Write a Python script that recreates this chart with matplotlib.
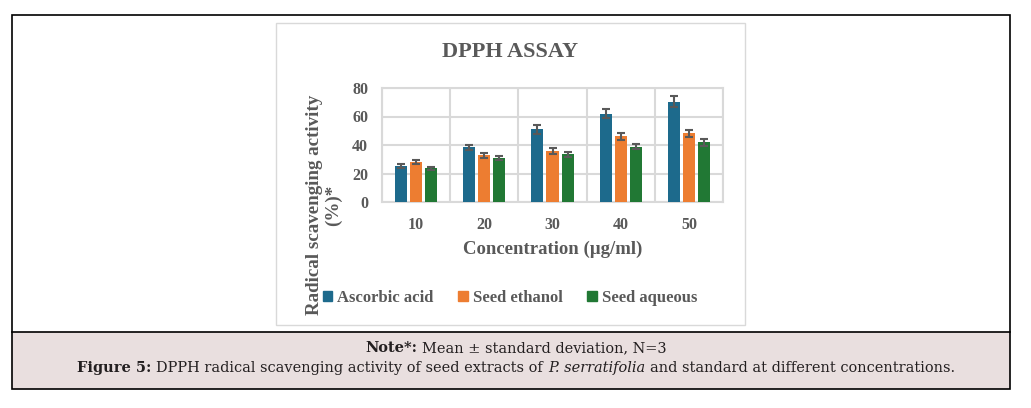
import matplotlib
matplotlib.use("Agg")
import matplotlib.pyplot as plt
from matplotlib.patches import Rectangle, Patch
import numpy as np

# data
concentrations = ["10", "20", "30", "40", "50"]
series_names = ["Ascorbic acid", "Seed ethanol", "Seed aqueous"]
ascorbic = [25.1, 38.4, 50.9, 62.1, 70.5]
ascorbic_sd = [1.4, 1.9, 2.9, 3.3, 3.6]
ethanol = [27.9, 32.8, 35.6, 46.0, 48.1]
ethanol_sd = [1.5, 1.6, 2.0, 2.2, 2.3]
aqueous = [23.7, 30.7, 33.5, 38.8, 41.9]
aqueous_sd = [1.0, 1.5, 1.9, 1.9, 2.3]
yticks = [0, 20, 40, 60, 80]

colors = ["#1d6a8c", "#ed7d31", "#217834"]
gray = "#595959"
grid = "#d9d9d9"
serif = "Liberation Serif"
cap_font = "DejaVu Serif"

W, H = 1031, 408
fig = plt.figure(figsize=(W / 100, H / 100), dpi=100)


def fx(px):
    return px / W


def fy(py):
    return 1 - py / H


def box(x0, y0, x1, y1, **kw):
    r = Rectangle((fx(x0), fy(y1)), fx(x1) - fx(x0), fy(y0) - fy(y1),
                  transform=fig.transFigure, **kw)
    fig.patches.append(r)


# outer frame and caption area
box(12, 332, 1010, 389, facecolor="#e9dfdf", edgecolor="none", zorder=0)
box(12, 15, 1010, 389, facecolor="none", edgecolor="black", lw=1.2, zorder=1)
fig.add_artist(plt.Line2D([fx(12), fx(1010)], [fy(332), fy(332)],
                          transform=fig.transFigure, color="black", lw=1.2))
# chart area frame
box(276, 23, 745, 325, facecolor="white", edgecolor=grid, lw=1.0, zorder=1)

ax = fig.add_axes([fx(382), fy(202), fx(723) - fx(382), fy(88) - fy(202)])
ax.set_zorder(2)

x = np.arange(len(concentrations))
off = 0.22
bw = 0.176
ekw = dict(ecolor=gray, elinewidth=1.5, capsize=2.9, capthick=1.5)
data = [(ascorbic, ascorbic_sd), (ethanol, ethanol_sd), (aqueous, aqueous_sd)]
for i, (vals, sd) in enumerate(data):
    ax.bar(x + (i - 1) * off, vals, bw, yerr=sd, color=colors[i],
           error_kw=ekw, zorder=3)

ax.set_xlim(-0.5, len(concentrations) - 0.5)
ax.set_ylim(0, 80)
ax.set_yticks(yticks)
ax.set_xticks(x)
ax.set_xticklabels(concentrations)
ax.set_xticks(np.arange(-0.5, len(concentrations)), minor=True)
ax.grid(axis="y", color=grid, lw=1.5, zorder=0)
ax.grid(axis="x", which="minor", color=grid, lw=1.5, zorder=0)
ax.set_axisbelow(True)
for s in ax.spines.values():
    s.set_color(grid)
    s.set_linewidth(1.5)
ax.tick_params(axis="both", which="both", length=0)
ax.tick_params(axis="y", pad=10)
ax.tick_params(axis="x", pad=11)
for lab in ax.get_xticklabels() + ax.get_yticklabels():
    lab.set_fontfamily(serif)
    lab.set_fontweight("bold")
    lab.set_fontsize(11.5)
    lab.set_color(gray)

fig.text(fx(510), fy(52), "DPPH ASSAY", ha="center", va="center",
         family=serif, weight="bold", size=16, color=gray)
fig.text(fx(553), fy(249), "Concentration (\u00b5g/ml)", ha="center",
         va="center", family=serif, weight="bold", size=13.5, color=gray)
fig.text(fx(324), fy(205), "Radical scavenging activity\n(%)*", ha="center",
         va="center", rotation=90, multialignment="center", linespacing=1.1,
         family=serif, weight="bold", size=13.7, color=gray)

handles = [Patch(color=c, label=n) for c, n in zip(colors, series_names)]
leg = fig.legend(handles=handles, loc="center left",
                 bbox_to_anchor=(fx(322.5), fy(297.5)), ncol=3, frameon=False,
                 borderpad=0, borderaxespad=0, handlelength=0.56,
                 handleheight=0.56, handletextpad=0.3, columnspacing=1.5,
                 prop=dict(family=serif, weight="bold", size=12))
for t in leg.get_texts():
    t.set_color(gray)

# caption lines with mixed styles
renderer = fig.canvas.get_renderer()
cap_size = 10.45


def caption(py, runs):
    texts = []
    widths = []
    sp = fig.text(0, 0, "x x", family=cap_font, size=cap_size)
    sp2 = fig.text(0, 0, "xx", family=cap_font, size=cap_size)
    space = (sp.get_window_extent(renderer).width
             - sp2.get_window_extent(renderer).width)
    sp.remove()
    sp2.remove()
    for s, weight, style, gap in runs:
        t = fig.text(0, fy(py), s, family=cap_font, weight=weight, style=style,
                     size=cap_size, va="center", ha="left", color="#231f20")
        texts.append((t, gap))
        widths.append(t.get_window_extent(renderer).width + (space if gap else 0))
    start = W / 2 + 0.5 - sum(widths) / 2
    for (t, gap), w in zip(texts, widths):
        t.set_x(fx(start))
        start += w


caption(348, [("Note*:", "bold", "normal", True),
              ("Mean \u00b1 standard deviation, N=3", "normal", "normal", False)])
caption(368, [("Figure 5:", "bold", "normal", True),
              ("DPPH radical scavenging activity of seed extracts of",
               "normal", "normal", True),
              ("P. serratifolia", "normal", "italic", True),
              ("and standard at different concentrations.", "normal", "normal",
               False)])

fig.savefig("out.png", dpi=100)
